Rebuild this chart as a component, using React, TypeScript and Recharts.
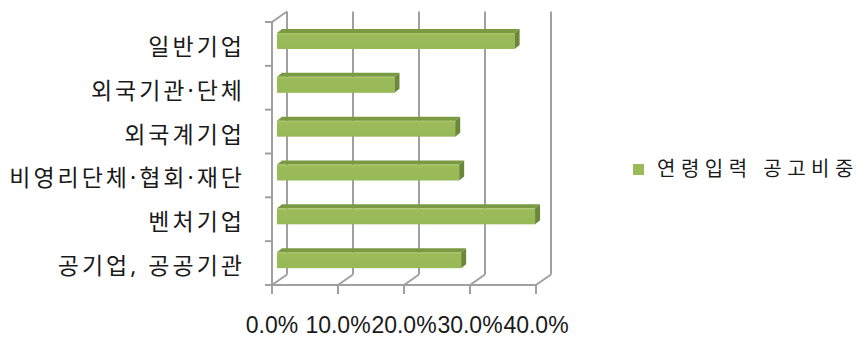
import React from 'react';
import { BarChart, Bar, XAxis, YAxis, CartesianGrid, Legend } from 'recharts';

const categories = ['일반기업', '외국기관·단체', '외국계기업', '비영리단체·협회·재단', '벤처기업', '공기업, 공공기관'];
const shareValues = [0.360, 0.178, 0.270, 0.276, 0.391, 0.279];
const xTicks = [0, 0.1, 0.2, 0.3, 0.4];
const seriesName = '연령입력 공고비중';

const data = categories.map((c, i) => ({ name: c, value: shareValues[i] }));

const W = 866;
const H = 339;
const M = { top: 22, right: 330, bottom: 0, left: 0 };
const Y_AXIS_W = 272;
const X_AXIS_H = 54;
const DEPTH_X = 15;
const DEPTH_Y = -10.5;
const BAR_DX = 5;
const BAR_DY = -4;
const FONT = '"Noto Sans", "Noto Sans CJK KR", sans-serif';
const WALL = '#a0a0a0';

const BarShape = (props: any) => {
  const { x, y, width, height } = props;
  const x0 = x + BAR_DX;
  const y0 = y - 3;
  const w = width;
  const h = height;
  const top = `${x0},${y0} ${x0 + w},${y0} ${x0 + w + BAR_DX},${y0 + BAR_DY} ${x0 + BAR_DX},${y0 + BAR_DY}`;
  const side = `${x0 + w},${y0} ${x0 + w + BAR_DX},${y0 + BAR_DY} ${x0 + w + BAR_DX},${y0 + h + BAR_DY} ${x0 + w},${y0 + h}`;
  return (
    <g>
      <defs>
        <linearGradient id="frontGrad" x1="0" y1="0" x2="0" y2="1">
          <stop offset="0" stopColor="#a9c96a" />
          <stop offset="0.15" stopColor="#9bbb59" />
          <stop offset="1" stopColor="#98b957" />
        </linearGradient>
      </defs>
      <rect x={x0} y={y0} width={w} height={h} fill="url(#frontGrad)" />
      <polygon points={top} fill="#7a9a42" />
      <polygon points={side} fill="#6a8838" />
    </g>
  );
};

const GridLine = (props: any) => {
  const { x1, y1, y2, index } = props;
  const bx = x1 + DEPTH_X;
  return (
    <g key={`g-${index}`}>
      <line x1={bx} y1={y1 + DEPTH_Y} x2={bx} y2={y2 + DEPTH_Y} stroke={WALL} strokeWidth={2} />
      <line x1={x1} y1={y2} x2={bx} y2={y2 + DEPTH_Y} stroke={WALL} strokeWidth={2} />
      {index === 0 ? (
        <line x1={x1} y1={y1} x2={bx} y2={y1 + DEPTH_Y} stroke={WALL} strokeWidth={2} />
      ) : null}
    </g>
  );
};

const YTick = (props: any) => {
  const { x, y, payload, index } = props;
  const band = (H - M.top - X_AXIS_H) / categories.length;
  const axisX = x + 30;
  return (
    <g>
      <line x1={axisX - 7} y1={y + band / 2} x2={axisX} y2={y + band / 2} stroke={WALL} strokeWidth={2} />
      {index === 0 ? (
        <line x1={axisX - 7} y1={y - band / 2} x2={axisX} y2={y - band / 2} stroke={WALL} strokeWidth={2} />
      ) : null}
      <text x={x + 3} y={y} dy={11} textAnchor="end" fontSize={23} fill="#1a1a1a" fontFamily={FONT} letterSpacing={3}>
        {payload.value}
      </text>
    </g>
  );
};

const LegendContent = () => (
  <div style={{ display: 'flex', alignItems: 'center', whiteSpace: 'nowrap', fontFamily: FONT, height: 24 }}>
    <span style={{ display: 'inline-block', width: 11, height: 11, background: '#9bbb59', marginRight: 13 }} />
    <span style={{ fontSize: 20, letterSpacing: 5.5, color: '#1a1a1a', lineHeight: '24px' }}>{seriesName}</span>
  </div>
);

export default function App() {
  return (
    <div style={{ position: 'fixed', left: 0, top: 0, width: W, height: H, overflow: 'hidden', background: '#fff' }}>
      <BarChart width={W} height={H} data={data} layout="vertical" margin={M} barSize={16}>
        <CartesianGrid horizontal={false} vertical={GridLine as any} stroke={WALL} />
        <XAxis
          type="number"
          domain={[0, 0.4]}
          ticks={xTicks}
          interval={0}
          height={X_AXIS_H}
          tickSize={9}
          tickMargin={23}
          axisLine={{ stroke: WALL, strokeWidth: 2 }}
          tickLine={{ stroke: WALL, strokeWidth: 2 }}
          tickFormatter={(v: number) => `${(v * 100).toFixed(1)}%`}
          tick={{ fontSize: 23, fill: '#1a1a1a', fontFamily: '"Liberation Sans", Arial, sans-serif' }}
        />
        <YAxis
          type="category"
          dataKey="name"
          width={Y_AXIS_W}
          tickLine={false}
          tickSize={0}
          tickMargin={30}
          interval={0}
          axisLine={{ stroke: WALL, strokeWidth: 2 }}
          tick={<YTick />}
        />
        <Legend
          layout="vertical"
          align="center"
          verticalAlign="middle"
          wrapperStyle={{ left: 633, top: 157, width: 232 }}
          content={<LegendContent />}
        />
        <Bar dataKey="value" name={seriesName} fill="#9bbb59" isAnimationActive={false} shape={<BarShape />} />
      </BarChart>
    </div>
  );
}
